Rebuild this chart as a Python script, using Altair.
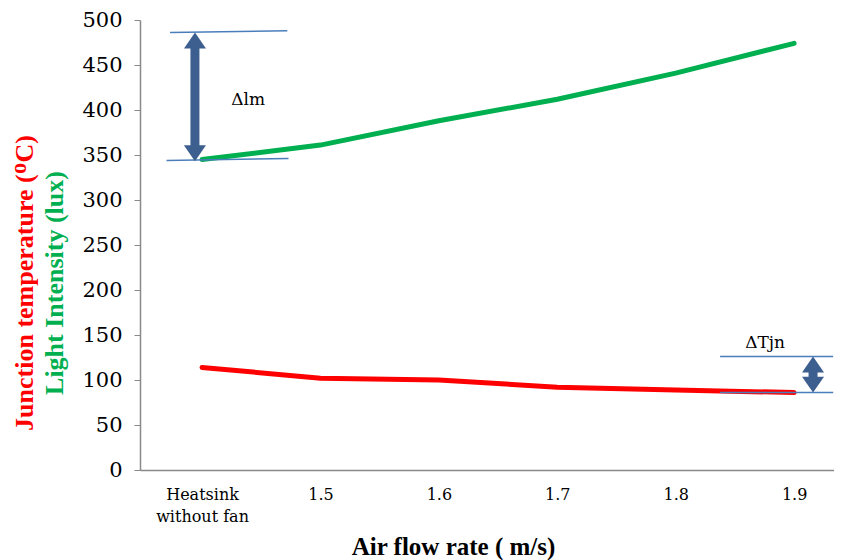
import json
import altair as alt
import pandas as pd

# ---- data ----
categories = ["Heatsink without fan", "1.5", "1.6", "1.7", "1.8", "1.9"]
light_intensity = [345, 361, 388, 412, 441, 474]
junction_temp = [114, 102, 100, 92, 89, 86]
y_ticks = [0, 50, 100, 150, 200, 250, 300, 350, 400, 450, 500]

# annotation values (data units: x = category index, y = value)
lm_top = 486
lm_bottom = 343
tjn_top = 126
tjn_bottom = 86

idx = list(range(len(categories)))
df = pd.DataFrame({
    "idx": idx * 2,
    "value": light_intensity + junction_temp,
    "series": ["Light"] * len(idx) + ["Temp"] * len(idx),
})

x_dom = [-0.524, 5.337]
xs = alt.Scale(domain=x_dom, nice=False, zero=False)
ys = alt.Scale(domain=[0, 500], nice=False)

label_arr = [c.split(" ", 1) if " " in c else c for c in categories]
label_expr = json.dumps(label_arr) + "[datum.value]"

BOLD = "Times New Roman, Liberation Serif, serif"
REG = "DejaVu Serif"

lines = alt.Chart(df).mark_line(strokeWidth=5, strokeCap="round").encode(
    x=alt.X("idx:Q", scale=xs,
            axis=alt.Axis(values=idx, labelExpr=label_expr, ticks=False, grid=False,
                          domainColor="#898989", domainWidth=1.5,
                          labelFont=REG, labelFontSize=16, labelColor="black",
                          labelPadding=16, labelLineHeight=22,
                          title="Air flow rate ( m/s)", titleFont=BOLD,
                          titleFontSize=25, titleFontWeight="bold", titleColor="black",
                          titleX=313, titleY=64, titleAlign="center", titleBaseline="top")),
    y=alt.Y("value:Q", scale=ys,
            axis=alt.Axis(values=y_ticks, grid=False, title=None,
                          domainColor="#898989", domainWidth=1.5,
                          tickColor="#898989", tickSize=6,
                          labelFont=REG, labelFontSize=21, labelColor="black",
                          labelPadding=12)),
    color=alt.Color("series:N", scale=alt.Scale(domain=["Light", "Temp"],
                                                range=["#00B050", "#FF0000"]),
                    legend=None),
    detail="series:N",
)

# reference lines for annotations
ann_lines = pd.DataFrame({
    "x1": [-0.27, -0.30, 4.375, 4.375],
    "x2": [0.72, 0.73, 5.33, 5.33],
    "y1": [lm_top, lm_bottom + 1, tjn_top, tjn_bottom],
    "y2": [lm_top + 2, lm_bottom + 3, tjn_top, tjn_bottom],
})
ref_rules = alt.Chart(ann_lines).mark_rule(color="#4A7EBB", strokeWidth=1.5).encode(
    x=alt.X("x1:Q", scale=xs), x2="x2:Q",
    y=alt.Y("y1:Q", scale=ys), y2="y2:Q",
)

ARROW = "#3C5F8F"
arrows = pd.DataFrame({
    "x": [-0.06, 5.16],
    "top": [lm_top, tjn_top],
    "bottom": [lm_bottom, tjn_bottom],
})
shaft = alt.Chart(arrows).transform_calculate(
    t="datum.top - 12", b="datum.bottom + 12"
).mark_rule(color=ARROW, strokeWidth=9).encode(
    x=alt.X("x:Q", scale=xs), y=alt.Y("t:Q", scale=ys), y2="b:Q",
)
head_up = alt.Chart(arrows).mark_point(
    shape="M0,0L1,1.45L-1,1.45Z", filled=True, opacity=1, color=ARROW, size=484, strokeWidth=0
).encode(x=alt.X("x:Q", scale=xs), y=alt.Y("top:Q", scale=ys))
head_down = alt.Chart(arrows).mark_point(
    shape="M0,0L1,-1.45L-1,-1.45Z", filled=True, opacity=1, color=ARROW, size=484, strokeWidth=0
).encode(x=alt.X("x:Q", scale=xs), y=alt.Y("bottom:Q", scale=ys))

labels = pd.DataFrame({"x": [0.39, 4.755], "y": [411, 141], "t": ["\u0394lm", "\u0394Tjn"]})
ann_text = alt.Chart(labels).mark_text(font=REG, fontSize=17, color="black").encode(
    x=alt.X("x:Q", scale=xs), y=alt.Y("y:Q", scale=ys), text="t:N"
)

titles = pd.DataFrame({
    "t": ["Junction temperature (\u1D3CC)", "Light Intensity (lux)"],
})
red_title = alt.Chart(titles.iloc[[0]]).mark_text(
    font=BOLD, fontSize=26, fontWeight="bold", angle=270, color="#FF0000"
).encode(text="t:N", x=alt.value(-115), y=alt.value(263))
green_title = alt.Chart(titles.iloc[[1]]).mark_text(
    font=BOLD, fontSize=26, fontWeight="bold", angle=270, color="#00B050"
).encode(text="t:N", x=alt.value(-85), y=alt.value(263))

chart = alt.layer(
    lines, ref_rules, shaft, head_up, head_down, ann_text, red_title, green_title
).properties(
    width=694, height=450,
    autosize=alt.AutoSizeParams(type="none"),
    padding={"left": 132, "top": 12, "right": 0, "bottom": 90},
).configure(
    background="white"
).configure_view(stroke=None)

chart.save("out.html", embed_options={"renderer": "svg", "actions": False})
